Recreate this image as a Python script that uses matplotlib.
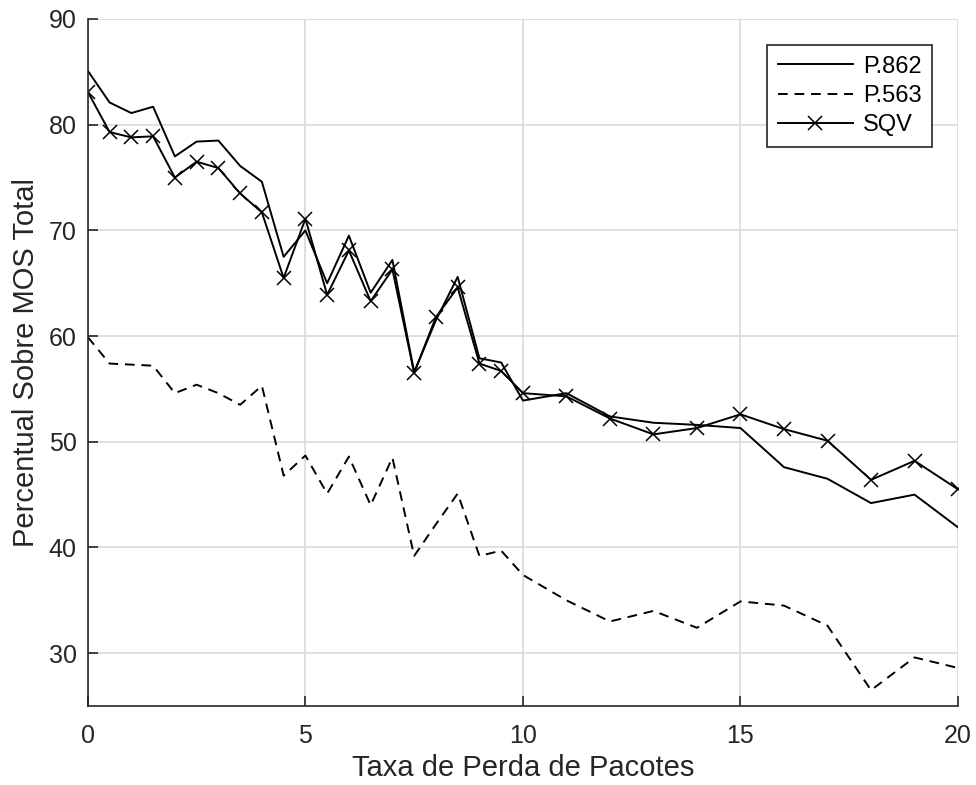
import matplotlib
matplotlib.use("Agg")
import matplotlib.pyplot as plt
import numpy as np

plt.rcParams['font.family'] = ['Liberation Sans', 'DejaVu Sans']

# taxa de perda (%)
taxa = [0, 0.5, 1, 1.5, 2, 2.5, 3, 3.5, 4, 4.5, 5, 5.5, 6, 6.5, 7, 7.5, 8, 8.5, 9, 9.5,
        10, 11, 12, 13, 14, 15, 16, 17, 18, 19, 20]

p862 = [85.1, 82.1, 81.1, 81.7, 77.0, 78.4, 78.5, 76.1, 74.6, 67.5, 70.0, 65.0, 69.5, 64.1,
        67.2, 56.6, 61.5, 65.6, 57.9, 57.5, 53.9, 54.6, 52.4, 51.8, 51.6, 51.3, 47.6, 46.5,
        44.2, 45.0, 41.9]

p563 = [59.9, 57.4, 57.3, 57.2, 54.6, 55.4, 54.6, 53.5, 55.3, 46.8, 48.7, 45.1, 48.6, 44.0,
        48.5, 39.2, 42.2, 45.1, 39.2, 39.7, 37.4, 35.0, 33.0, 34.0, 32.4, 34.9, 34.5, 32.6,
        26.5, 29.6, 28.6]

sqv = [83.1, 79.3, 78.8, 78.9, 75.0, 76.5, 75.9, 73.5, 71.7, 65.5, 71.1, 63.9, 68.1, 63.3,
       66.3, 56.5, 61.8, 64.6, 57.4, 56.7, 54.6, 54.3, 52.2, 50.7, 51.3, 52.6, 51.2, 50.1,
       46.4, 48.2, 45.5]

txt = '#262626'

fig = plt.figure(figsize=(9.76, 7.85), dpi=100)
ax = fig.add_axes([0.090, 0.1006, 0.8916, 0.8752])

ax.plot(taxa, p862, '-', color='black', lw=1.4, label='P.862')
ax.plot(taxa, p563, '--', color='black', lw=1.4, label='P.563', dashes=(5, 3.5))
ax.plot(taxa, sqv, '-', color='black', lw=1.4, marker='x', markersize=9.5,
        markeredgewidth=1.1, label='SQV')

ax.set_xlim(0, 20)
ax.set_ylim(25, 90)
ax.set_xticks([0, 5, 10, 15, 20])
ax.set_yticks([30, 40, 50, 60, 70, 80, 90])
ax.grid(True, color='#d9d9d9', lw=1.2)
ax.set_axisbelow(True)

for s in ['top', 'right']:
    ax.spines[s].set_visible(False)
for s in ['left', 'bottom']:
    ax.spines[s].set_color(txt)
    ax.spines[s].set_linewidth(1.2)

ax.tick_params(direction='in', length=7, width=1.2, colors=txt, labelsize=18)
ax.tick_params(axis='x', pad=13)
ax.tick_params(axis='y', pad=8)

ax.set_xlabel('Taxa de Perda de Pacotes', fontsize=21, color=txt, labelpad=4)
ax.set_ylabel('Percentual Sobre MOS Total', fontsize=21, color=txt, labelpad=6)

leg = ax.legend(loc='upper right', bbox_to_anchor=(0.97, 0.962), fontsize=17,
                fancybox=False, framealpha=1, edgecolor=txt, handlelength=3.2,
                handletextpad=0.4, borderpad=0.45, labelspacing=0.3,
                borderaxespad=0)
leg.get_frame().set_linewidth(1.2)

fig.savefig('out.png', dpi=100)
